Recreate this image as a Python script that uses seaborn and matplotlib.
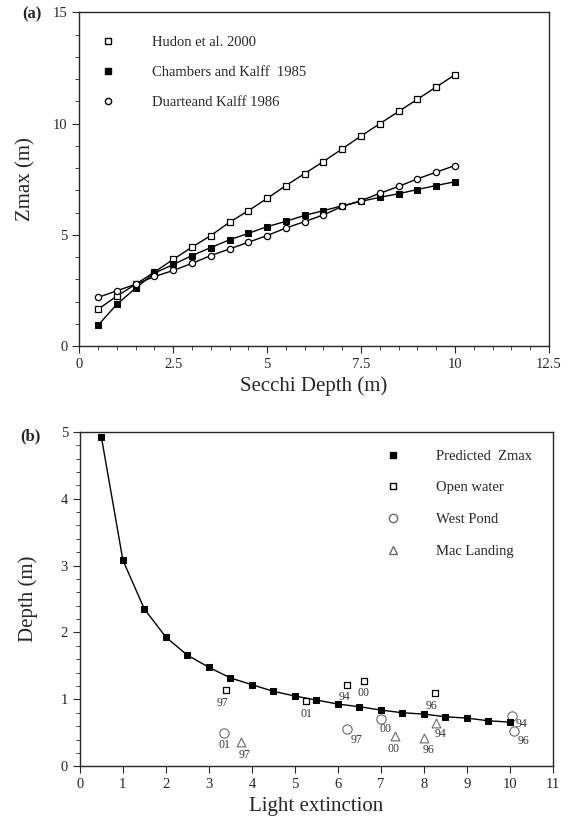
import matplotlib
matplotlib.use("Agg")
import matplotlib.pyplot as plt
import seaborn as sns
from matplotlib.lines import Line2D
from matplotlib.ticker import MultipleLocator

# panel (a) data
secchi = [0.5, 1.0, 1.5, 2.0, 2.5, 3.0, 3.5, 4.0, 4.5, 5.0,
          5.5, 6.0, 6.5, 7.0, 7.5, 8.0, 8.5, 9.0, 9.5, 10.0]
hudon = [1.66, 2.25, 2.78, 3.33, 3.90, 4.45, 4.97, 5.57, 6.09, 6.64,
         7.22, 7.76, 8.30, 8.87, 9.45, 10.00, 10.55, 11.10, 11.65, 12.20]
chambers = [0.94, 1.88, 2.61, 3.28, 3.67, 4.07, 4.43, 4.78, 5.07, 5.37,
            5.61, 5.88, 6.09, 6.31, 6.51, 6.69, 6.85, 7.04, 7.22, 7.39]
duarte = [2.19, 2.49, 2.78, 3.13, 3.40, 3.72, 4.07, 4.37, 4.67, 4.97,
          5.31, 5.60, 5.90, 6.28, 6.54, 6.87, 7.18, 7.52, 7.82, 8.12]

# panel (b) data
kd = [0.5, 1.0, 1.5, 2.0, 2.5, 3.0, 3.5, 4.0, 4.5, 5.0,
      5.5, 6.0, 6.5, 7.0, 7.5, 8.0, 8.5, 9.0, 9.5, 10.0]
zmax_pred = [4.92, 3.08, 2.35, 1.93, 1.66, 1.48, 1.32, 1.22, 1.12, 1.05,
             0.99, 0.93, 0.89, 0.84, 0.80, 0.78, 0.74, 0.72, 0.68, 0.66]

open_x = [3.39, 5.26, 6.22, 6.60, 8.25]
open_y = [1.14, 0.97, 1.22, 1.28, 1.09]
open_yr = ["97", "01", "94", "00", "96"]

west_x = [3.36, 6.20, 7.00, 10.04, 10.09]
west_y = [0.50, 0.56, 0.71, 0.75, 0.53]
west_yr = ["01", "97", "00", "94", "96"]

mac_x = [3.74, 7.33, 8.00, 8.28]
mac_y = [0.36, 0.45, 0.43, 0.65]
mac_yr = ["97", "00", "96", "94"]

# label offsets (points)
open_off = [(-2, -9), (0, -9), (-2, -9), (0, -9), (-2, -9)]
west_off = [(0, -9), (7, -8), (3, -7), (7, -6), (7, -7)]
mac_off = [(3, -9), (-1, -9), (3, -9), (3, -8)]

sns.set_style("ticks")
plt.rcParams["font.family"] = ["Liberation Serif", "DejaVu Serif"]
plt.rcParams["axes.linewidth"] = 1.0

fig = plt.figure(figsize=(5.79, 8.32), dpi=100)

# ---------- panel (a)
ax1 = fig.add_axes([0.137, 0.584, 0.811, 0.401])
sns.lineplot(x=secchi, y=hudon, ax=ax1, color="black", lw=1, marker="s",
             markersize=4.5, markerfacecolor="white", markeredgecolor="black",
             markeredgewidth=0.9)
sns.lineplot(x=secchi, y=chambers, ax=ax1, color="black", lw=1, marker="s",
             markersize=5, markerfacecolor="black", markeredgecolor="black")
sns.lineplot(x=secchi, y=duarte, ax=ax1, color="black", lw=1, marker="o",
             markersize=4.5, markerfacecolor="white", markeredgecolor="black",
             markeredgewidth=0.9)
ax1.set_xlim(0, 12.5)
ax1.set_ylim(0, 15)
ax1.xaxis.set_major_locator(MultipleLocator(2.5))
ax1.xaxis.set_minor_locator(MultipleLocator(0.5))
ax1.yaxis.set_major_locator(MultipleLocator(5))
ax1.yaxis.set_minor_locator(MultipleLocator(1))
ax1.xaxis.set_major_formatter(plt.FuncFormatter(lambda v, p: f"{v:g}"))
ax1.set_xlabel("Secchi Depth (m)", fontsize=15)
ax1.set_ylabel("Zmax (m)", fontsize=15)
ax1.yaxis.set_label_coords(-0.094, 0.5)
ax1.tick_params(which="both", direction="out", labelsize=10.5)
ax1.tick_params(which="major", length=5)
ax1.tick_params(which="minor", length=3)

h1 = [Line2D([], [], ls="none", marker="s", ms=4.5, mfc="white", mec="black"),
      Line2D([], [], ls="none", marker="s", ms=5, mfc="black", mec="black"),
      Line2D([], [], ls="none", marker="o", ms=4.5, mfc="white", mec="black")]
ax1.legend(h1, ["Hudon et al. 2000", "Chambers and Kalff  1985",
                "Duarteand Kalff 1986"],
           loc="upper left", bbox_to_anchor=(-0.013, 0.992), frameon=False,
           fontsize=10.5, handletextpad=2.0, labelspacing=1.17, borderaxespad=1)
fig.text(0.038, 0.983, "(a)", fontsize=12, fontweight="bold", va="center")

# ---------- panel (b)
ax2 = fig.add_axes([0.138, 0.079, 0.817, 0.402])
sns.lineplot(x=kd, y=zmax_pred, ax=ax2, color="black", lw=1, marker="s",
             markersize=5, markerfacecolor="black", markeredgecolor="black")
sns.scatterplot(x=open_x, y=open_y, ax=ax2, marker="s", s=18,
                facecolor="white", edgecolor="black", linewidth=0.9)
sns.scatterplot(x=west_x, y=west_y, ax=ax2, marker="o", s=45,
                facecolor="white", edgecolor="dimgray", linewidth=0.8)
sns.scatterplot(x=mac_x, y=mac_y, ax=ax2, marker="^", s=40,
                facecolor="white", edgecolor="dimgray", linewidth=0.8)

for xs, ys, labs, offs in [(open_x, open_y, open_yr, open_off),
                           (west_x, west_y, west_yr, west_off),
                           (mac_x, mac_y, mac_yr, mac_off)]:
    for xv, yv, lab, off in zip(xs, ys, labs, offs):
        ax2.annotate(lab, (xv, yv), xytext=off, textcoords="offset points",
                     ha="center", va="center", fontsize=8.5, color="#333333")

ax2.set_xlim(0, 11)
ax2.set_ylim(0, 5)
ax2.xaxis.set_major_locator(MultipleLocator(1))
ax2.yaxis.set_major_locator(MultipleLocator(1))
ax2.yaxis.set_minor_locator(MultipleLocator(0.2))
ax2.set_xlabel("Light extinction", fontsize=15)
ax2.set_ylabel("Depth (m)", fontsize=15)
ax2.yaxis.set_label_coords(-0.089, 0.5)
ax2.tick_params(which="both", direction="out", labelsize=10.5)
ax2.tick_params(which="major", length=5)
ax2.tick_params(which="minor", length=3)

h2 = [Line2D([], [], ls="none", marker="s", ms=5, mfc="black", mec="black"),
      Line2D([], [], ls="none", marker="s", ms=4, mfc="white", mec="black"),
      Line2D([], [], ls="none", marker="o", ms=6, mfc="white", mec="dimgray"),
      Line2D([], [], ls="none", marker="^", ms=6, mfc="white", mec="dimgray")]
ax2.legend(h2, ["Predicted  Zmax", "Open water", "West Pond", "Mac Landing"],
           loc="upper right", bbox_to_anchor=(1.0, 1.008), frameon=False,
           fontsize=10.5, handletextpad=2.0, labelspacing=1.27, borderaxespad=1)
fig.text(0.035, 0.475, "(b)", fontsize=12, fontweight="bold", va="center")

fig.savefig("out.png", dpi=100)
